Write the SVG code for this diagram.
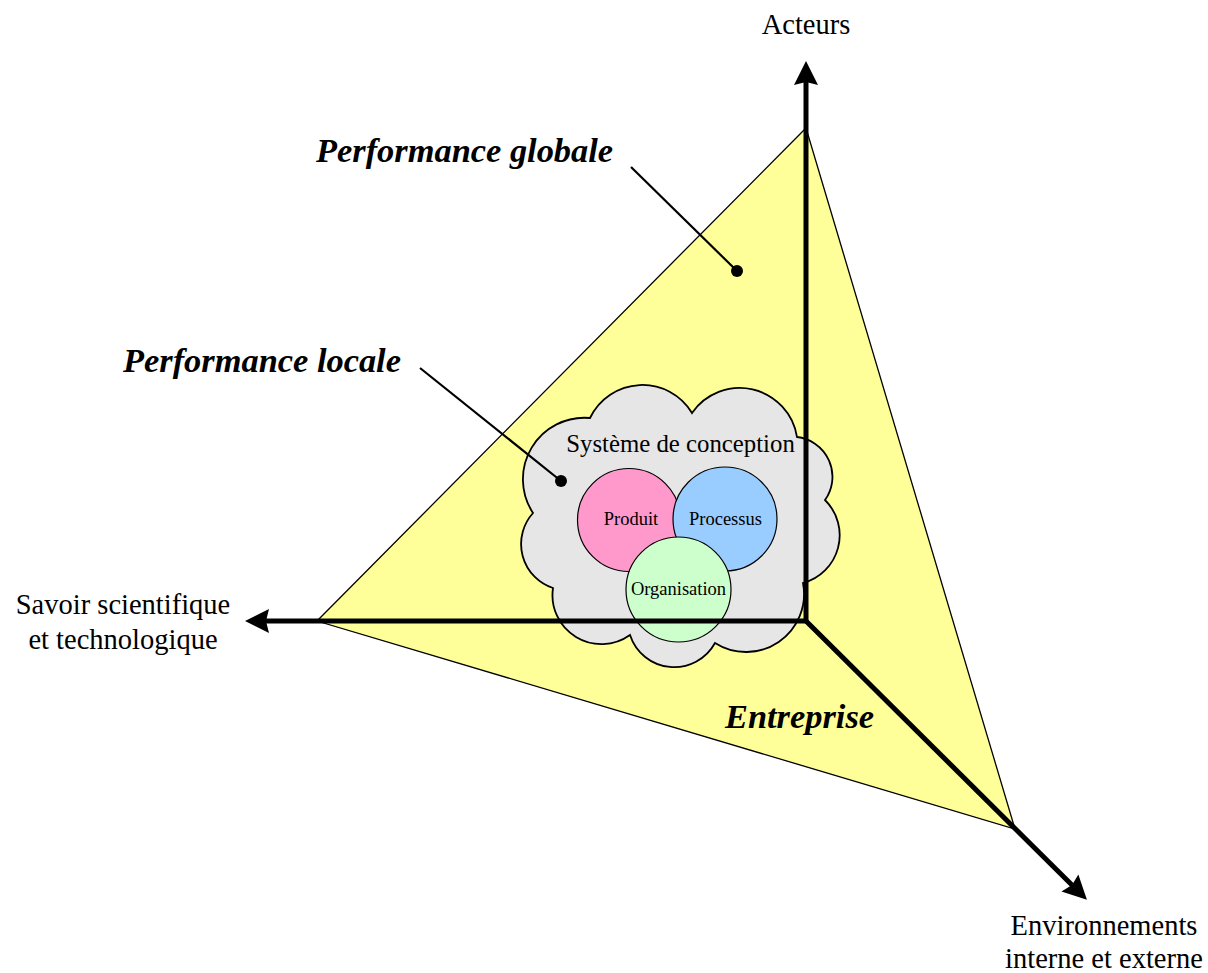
<svg xmlns="http://www.w3.org/2000/svg" width="1208" height="973" viewBox="0 0 1208 973">
<style>
text{font-family:"Liberation Serif","Times New Roman",serif;fill:#000}
.lab{font-size:28.5px;text-anchor:middle}
.bi{font-weight:bold;font-style:italic;font-size:34.4px}
.cl{font-size:18.5px;text-anchor:middle}
.axis{fill:none;stroke:#000;stroke-width:5;stroke-linejoin:miter}
.lead{stroke:#000;stroke-width:2.2;fill:none}
.circ{stroke:#000;stroke-width:1.2}
</style>
<defs>
<marker id="arr" markerUnits="userSpaceOnUse" markerWidth="30" markerHeight="30" refX="10" refY="12" orient="auto-start-reverse" overflow="visible">
<path d="M0,0 L24,12 L0,24 L3,12 z" fill="#000"/>
</marker>
</defs>
<g id="enterprise">
<polygon points="806,128 317,621 1015,829" fill="#FFFF99" stroke="#000" stroke-width="1.3"/>
</g>
<g id="systeme-conception">
<path d="M533,513 A61.5,61.5 0 0 1 590,418 A58,58 0 0 1 692,413 A58,58 0 0 1 797,437 A40,40 0 0 1 825,500 A49.5,49.5 0 0 1 803,583 A58,58 0 0 1 715,643 A46.5,46.5 0 0 1 630,635 A49,49 0 0 1 553,588 A46.3,46.3 0 0 1 533,513 Z" fill="#E6E6E6" stroke="#000" stroke-width="1.8"/>
<text x="680.5" y="452" style="font-size:24.8px;text-anchor:middle">Système de conception</text>
</g>
<g id="produit">
<circle class="circ" cx="629" cy="520" r="51.5" fill="#FF99CC"/>
<text class="cl" x="631" y="525">Produit</text>
</g>
<g id="processus">
<circle class="circ" cx="725" cy="519" r="52" fill="#99CCFF"/>
<text class="cl" x="725.5" y="525">Processus</text>
</g>
<g id="organisation">
<circle class="circ" cx="678.5" cy="589.5" r="52.5" fill="#CCFFCC"/>
<text class="cl" x="678.5" y="595">Organisation</text>
</g>
<g id="connectors">
<polyline class="axis" points="806,75 806,621 259,621" marker-start="url(#arr)" marker-end="url(#arr)"/>
<line class="axis" x1="806" y1="621" x2="1077" y2="890" marker-end="url(#arr)"/>
<line class="lead" x1="631" y1="167" x2="737" y2="271"/>
<circle cx="737" cy="271" r="6" fill="#000"/>
<line class="lead" x1="420" y1="368" x2="561" y2="481"/>
<circle cx="561" cy="481" r="6" fill="#000"/>
</g>
<g id="acteurs"><text class="lab" x="806" y="34">Acteurs</text></g>
<g id="savoir">
<text class="lab" x="123" y="614">Savoir scientifique</text>
<text class="lab" x="123" y="649">et technologique</text>
</g>
<g id="environnements">
<text class="lab" x="1104" y="935">Environnements</text>
<text class="lab" x="1104" y="968">interne et externe</text>
</g>
<g id="performance-globale"><text class="bi" x="316" y="162">Performance globale</text></g>
<g id="performance-locale"><text class="bi" x="123" y="372">Performance locale</text></g>
<g id="entreprise-label"><text class="bi" x="725" y="728">Entreprise</text></g>
</svg>
